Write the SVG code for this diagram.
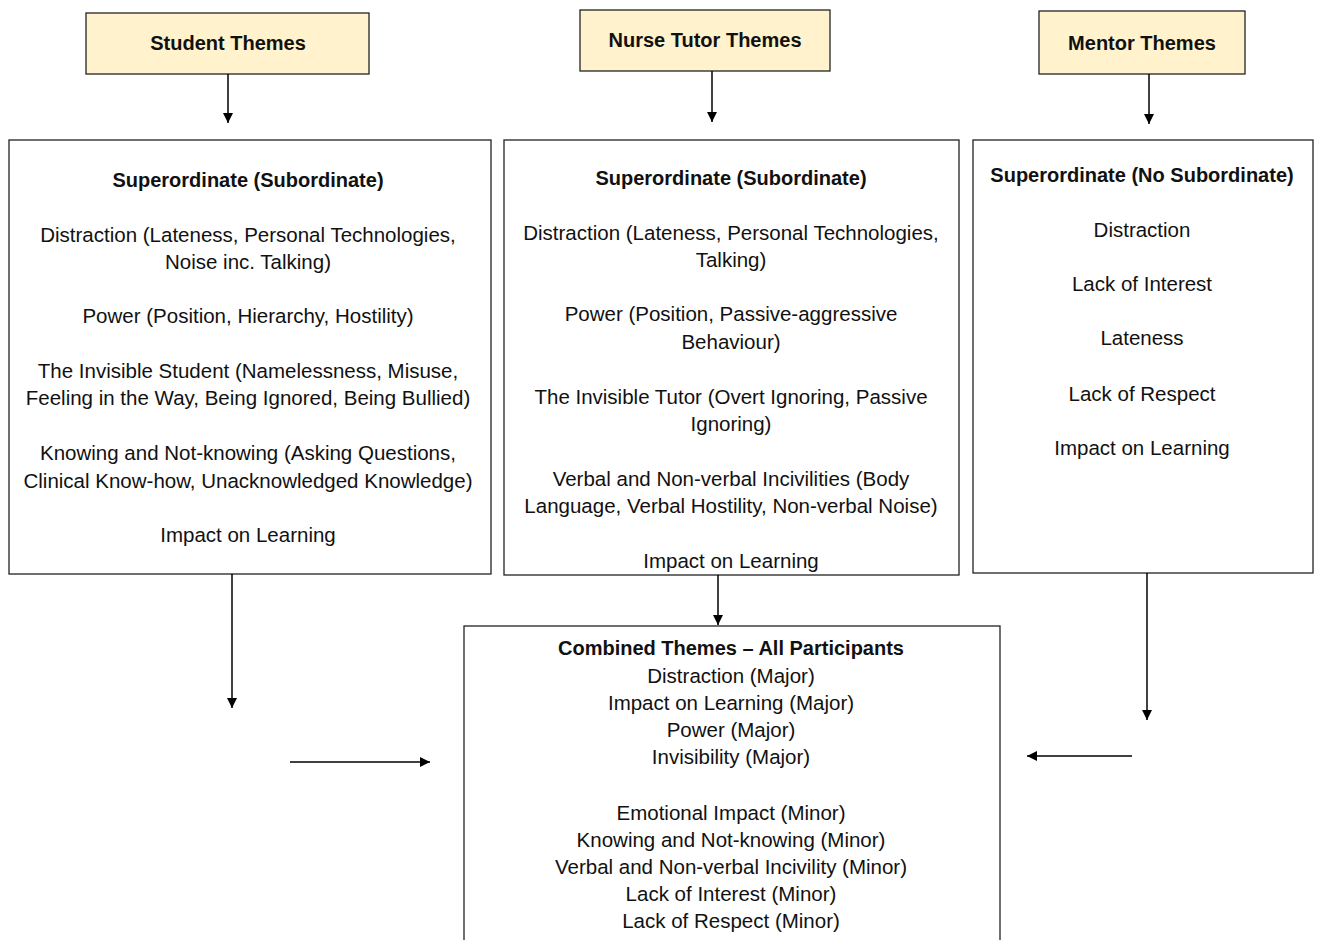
<svg xmlns="http://www.w3.org/2000/svg" width="1319" height="940" viewBox="0 0 1319 940">
<defs>
<marker id="ah" viewBox="0 0 10 10" refX="10" refY="5" markerWidth="10" markerHeight="10" markerUnits="userSpaceOnUse" orient="auto">
<path d="M0,0 L10,5 L0,10 z" fill="#000"/>
</marker>
<style>
.hdr{fill:#FFF2CC;stroke:#222;stroke-width:1.3}
.box{fill:#fff;stroke:#222;stroke-width:1.3}
text{font-family:"Liberation Sans",Arial,sans-serif;font-size:20.5px;fill:#111;text-anchor:middle}
.b{font-weight:bold;font-size:20px}
.c{stroke:#000;stroke-width:1.5;fill:none;marker-end:url(#ah)}
</style>
</defs>
<rect width="1319" height="940" fill="#fff"/>
<g id="student-header">
<rect class="hdr" x="86" y="13" width="283" height="61"/>
<text class="b" x="228" y="50">Student Themes</text>
</g>
<g id="tutor-header">
<rect class="hdr" x="580" y="10" width="250" height="61"/>
<text class="b" x="705" y="47">Nurse Tutor Themes</text>
</g>
<g id="mentor-header">
<rect class="hdr" x="1039" y="11" width="206" height="63"/>
<text class="b" x="1142" y="50">Mentor Themes</text>
</g>
<g id="student-box">
<rect class="box" x="9" y="140" width="482" height="434"/>
<text class="b" x="248" y="187">Superordinate (Subordinate)</text>
<text x="248" y="242">Distraction (Lateness, Personal Technologies,</text>
<text x="248" y="269">Noise inc. Talking)</text>
<text x="248" y="323">Power (Position, Hierarchy, Hostility)</text>
<text x="248" y="378">The Invisible Student (Namelessness, Misuse,</text>
<text x="248" y="405">Feeling in the Way, Being Ignored, Being Bullied)</text>
<text x="248" y="460">Knowing and Not-knowing (Asking Questions,</text>
<text x="248" y="488">Clinical Know-how, Unacknowledged Knowledge)</text>
<text x="248" y="542">Impact on Learning</text>
</g>
<g id="tutor-box">
<rect class="box" x="504" y="140" width="455" height="435"/>
<text class="b" x="731" y="185">Superordinate (Subordinate)</text>
<text x="731" y="240">Distraction (Lateness, Personal Technologies,</text>
<text x="731" y="267">Talking)</text>
<text x="731" y="321">Power (Position, Passive-aggressive</text>
<text x="731" y="349">Behaviour)</text>
<text x="731" y="404">The Invisible Tutor (Overt Ignoring, Passive</text>
<text x="731" y="431">Ignoring)</text>
<text x="731" y="486">Verbal and Non-verbal Incivilities (Body</text>
<text x="731" y="513">Language, Verbal Hostility, Non-verbal Noise)</text>
<text x="731" y="568">Impact on Learning</text>
</g>
<g id="mentor-box">
<rect class="box" x="973" y="140" width="340" height="433"/>
<text class="b" x="1142" y="182">Superordinate (No Subordinate)</text>
<text x="1142" y="237">Distraction</text>
<text x="1142" y="291">Lack of Interest</text>
<text x="1142" y="345">Lateness</text>
<text x="1142" y="401">Lack of Respect</text>
<text x="1142" y="455">Impact on Learning</text>
</g>
<g id="combined-box">
<rect class="box" x="464" y="626" width="536" height="330"/>
<text class="b" x="731" y="655">Combined Themes – All Participants</text>
<text x="731" y="683">Distraction (Major)</text>
<text x="731" y="710">Impact on Learning (Major)</text>
<text x="731" y="737">Power (Major)</text>
<text x="731" y="764">Invisibility (Major)</text>
<text x="731" y="820">Emotional Impact (Minor)</text>
<text x="731" y="847">Knowing and Not-knowing (Minor)</text>
<text x="731" y="874">Verbal and Non-verbal Incivility (Minor)</text>
<text x="731" y="901">Lack of Interest (Minor)</text>
<text x="731" y="928">Lack of Respect (Minor)</text>
</g>
<g id="connectors">
<line class="c" x1="228" y1="74" x2="228" y2="123"/>
<line class="c" x1="712" y1="71" x2="712" y2="122"/>
<line class="c" x1="1149" y1="74" x2="1149" y2="124"/>
<line class="c" x1="232" y1="574" x2="232" y2="708"/>
<line class="c" x1="290" y1="762" x2="430" y2="762"/>
<line class="c" x1="718" y1="575" x2="718" y2="625"/>
<line class="c" x1="1147" y1="573" x2="1147" y2="720"/>
<line class="c" x1="1132" y1="756" x2="1027" y2="756"/>
</g>
</svg>
